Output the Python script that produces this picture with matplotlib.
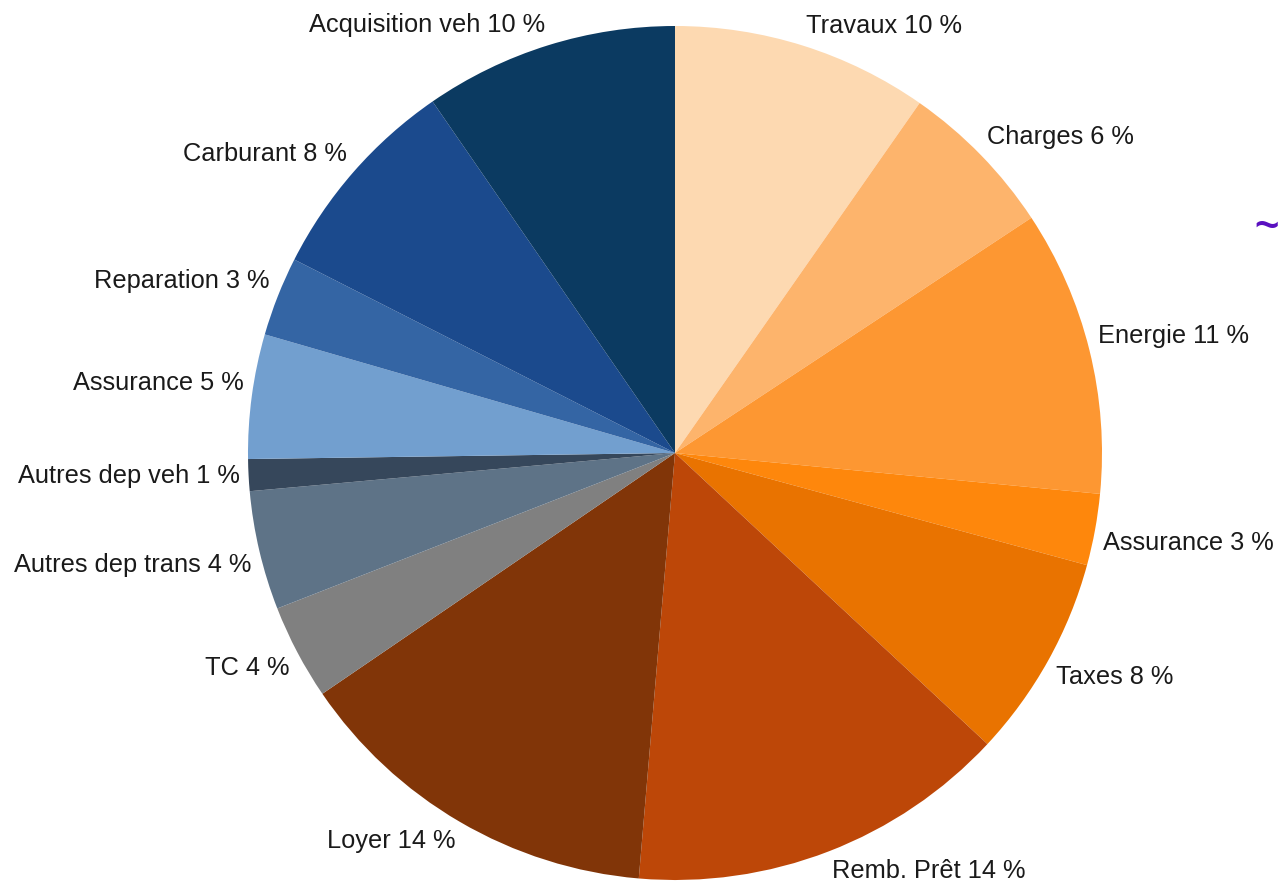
import matplotlib
matplotlib.use("Agg")
import matplotlib.pyplot as plt

# categories clockwise from 12 o'clock
categories = ["Travaux", "Charges", "Energie", "Assurance", "Taxes", "Remb. Prêt",
              "Loyer", "TC", "Autres dep trans", "Autres dep veh", "Assurance",
              "Reparation", "Carburant", "Acquisition veh"]
# shares (%)
shares = [9.7, 6.0, 10.8, 2.7, 7.7, 14.4, 14.1, 3.6, 4.5, 1.2, 4.7, 3.0, 7.9, 9.6]
# percentages printed on the labels
shown_pct = [10, 6, 11, 3, 8, 14, 14, 4, 4, 1, 5, 3, 8, 10]
colors = ["#fdd9b1", "#fdb46c", "#fd9732", "#fe870c", "#e97300", "#bd4708",
          "#813508", "#808080", "#5e7387", "#36475b", "#729fcf", "#3465a4",
          "#1b4a8d", "#0b3a61"]

labels = [f"{c} {p} %" for c, p in zip(categories, shown_pct)]

plt.rcParams['font.family'] = ['Liberation Sans', 'DejaVu Sans']

fig = plt.figure(figsize=(12.8, 8.86), dpi=100)
# pie centred at (675, 453) px with radius ~427 px
ax = fig.add_axes([248 / 1280, 6 / 886, 854 / 1280, 854 / 886])
wedges, texts = ax.pie(shares, labels=labels, colors=colors, startangle=90,
                       counterclock=False, labeldistance=1.02, radius=1.0,
                       wedgeprops=dict(linewidth=0),
                       textprops=dict(fontsize=18.3, color="#1a1a1a"))
# labels hug the rim: upper ones sit above their point, lower ones below
for t in texts:
    x, y = t.get_position()
    if abs(y) < 0.1:
        t.set_va("center")
    else:
        t.set_va("bottom" if y > 0 else "top")
ax.set_xlim(-1, 1)
ax.set_ylim(-1, 1)
ax.axis("off")

# stray glyph at the right edge of the original
fig.text(1254 / 1280, 1 - 228 / 886, "~", color="#5a10c0", fontsize=30,
         fontweight="bold", ha="left", va="center")

fig.savefig("out.png", dpi=100)
